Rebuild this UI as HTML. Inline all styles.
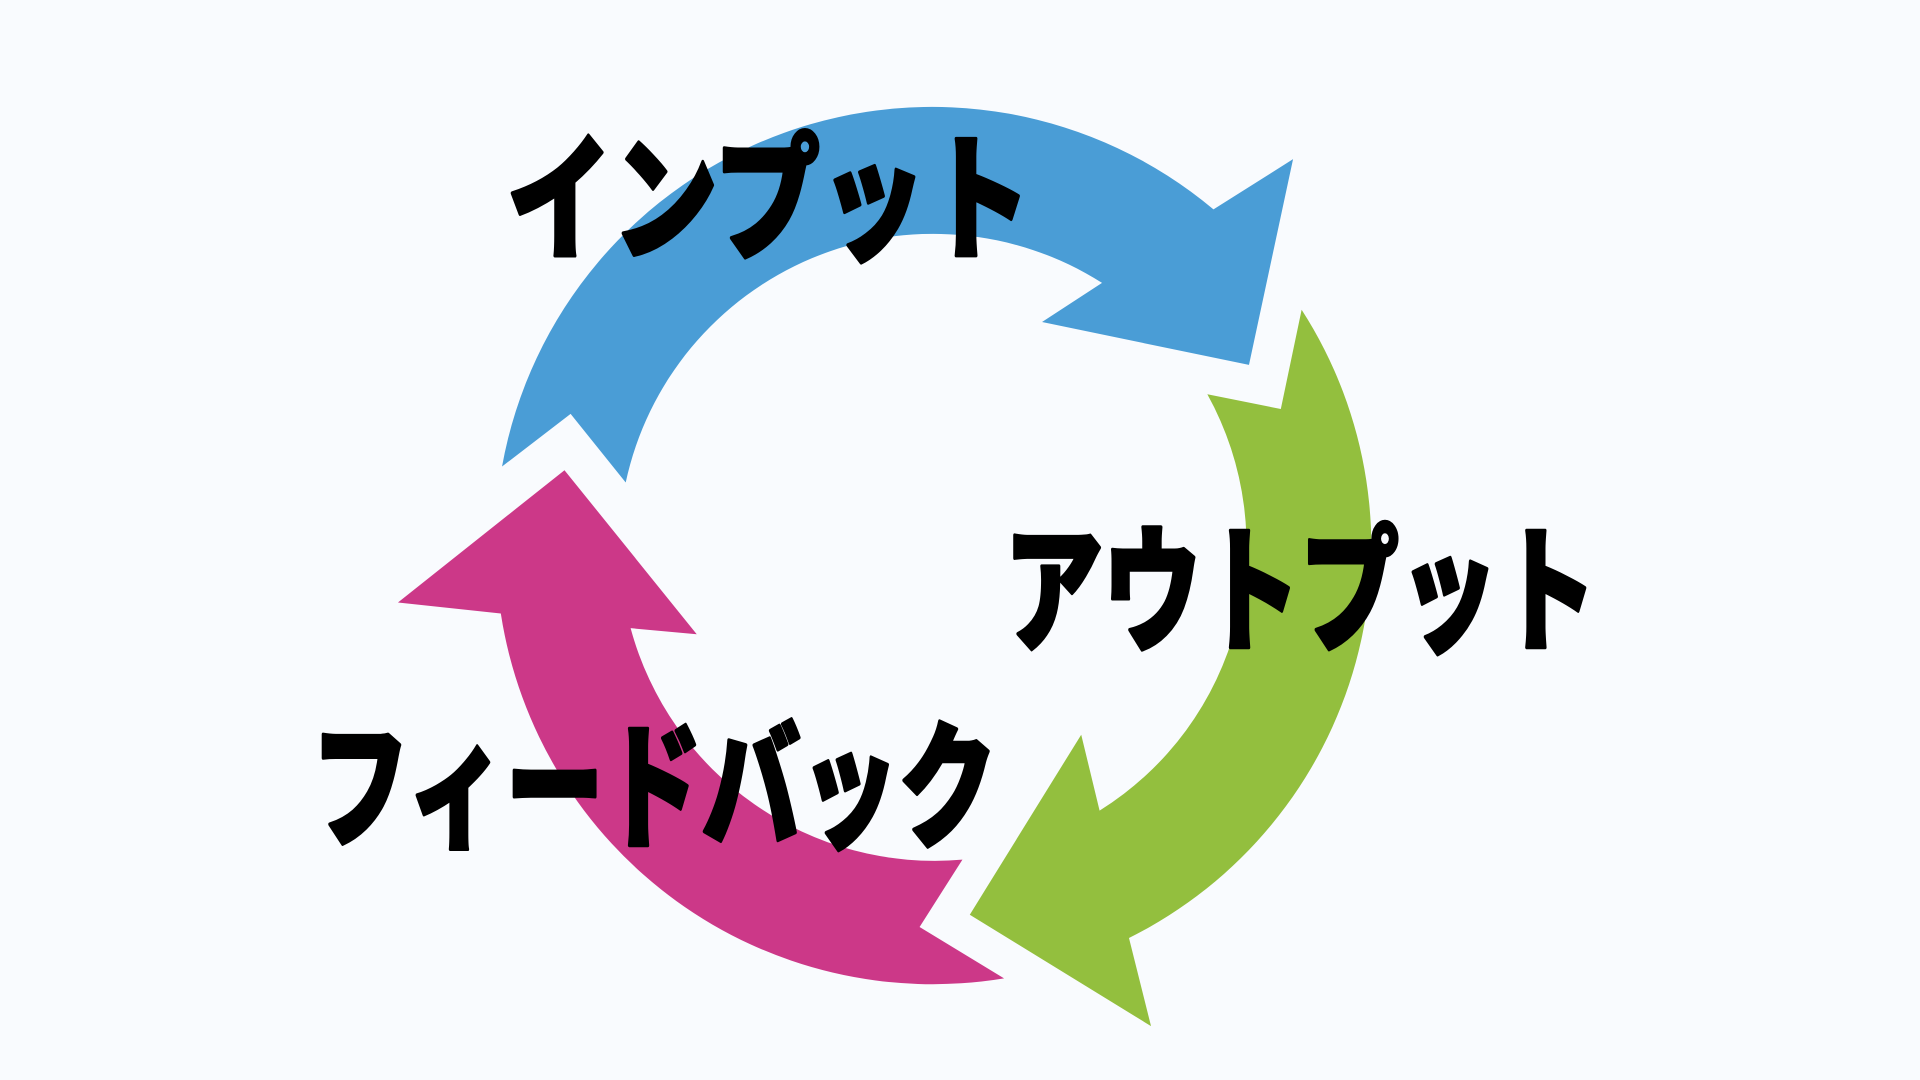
<!DOCTYPE html>
<html><head><meta charset="utf-8"><style>
html,body{margin:0;padding:0;background:#f9fbfe;}
svg{display:block;}
text{font-family:"Noto Sans CJK JP","Liberation Sans",sans-serif;font-weight:900;fill:#000;stroke:#000;stroke-width:3;stroke-linejoin:round;}
</style></head><body>
<svg width="1920" height="1080" viewBox="0 0 1568 882" xmlns="http://www.w3.org/2000/svg">
<rect width="1568" height="882" fill="#f9fbfe"/>
<path d="M410,381 L466,338 L511,394 A257,257 0 0 1 900,231 L851,263 L1020,298 L1056,130 L991,171 A357,357 0 0 0 410,381 Z" fill="#4a9dd6"/>
<path d="M1063,253 L1046,334 L986,322 A255,255 0 0 1 898,662 L883,600 L792,747 L940,838 L922,766 A357,357 0 0 0 1063,253 Z" fill="#93bf3e"/>
<path d="M820,799 L751,757 L786,702 A257,257 0 0 1 515,513 L569,518 L461,384 L325,492 L409,501 A357,357 0 0 0 820,799 Z" fill="#cc3888"/>
<text x="414" y="203" font-size="112" textLength="428" lengthAdjust="spacingAndGlyphs">インプット</text>
<text x="820" y="523" font-size="112" textLength="484" lengthAdjust="spacingAndGlyphs">アウトプット</text>
<text x="254" y="683" font-size="112" textLength="560" lengthAdjust="spacingAndGlyphs">フィードバック</text>
</svg>
</body></html>
